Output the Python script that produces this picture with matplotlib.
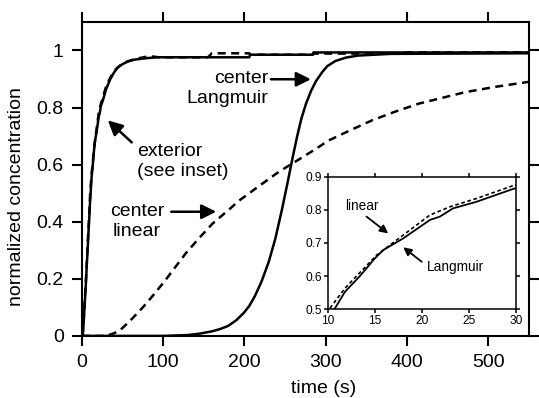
import matplotlib
matplotlib.use("Agg")
import matplotlib.pyplot as plt

plt.rcParams['font.family'] = ['Liberation Sans', 'DejaVu Sans']

# exterior, Langmuir isotherm (solid)
t_ext_lang = [0, 1, 2, 3, 4, 5, 6, 7, 8, 9, 10, 10.74, 11.8, 13.4, 15, 15.9, 18,
              20.85, 21.9, 23.3, 25.8, 29.7, 35, 40, 44, 50, 57, 65, 80, 93,
              206, 207, 284, 285, 550]
c_ext_lang = [0, 0.0, 0.04, 0.09, 0.14, 0.19, 0.25, 0.30, 0.36, 0.41, 0.47, 0.502,
              0.552, 0.60, 0.654, 0.679, 0.714, 0.77, 0.78, 0.805, 0.825, 0.864,
              0.90, 0.925, 0.94, 0.952, 0.962, 0.968, 0.973, 0.976,
              0.976, 0.985, 0.985, 0.993, 0.993]

# exterior, linear isotherm (dashed)
t_ext_lin = [0, 1, 2, 3, 4, 5, 6, 7, 8, 9, 10, 10.2, 11.8, 15.2, 18, 20.85, 23,
             25.8, 29.9, 35, 40, 50, 65, 83, 95, 155, 160, 206, 207, 284, 285,
             395, 400, 550]
c_ext_lin = [0, 0.01, 0.05, 0.10, 0.15, 0.20, 0.26, 0.32, 0.37, 0.43, 0.49, 0.502,
             0.563, 0.664, 0.724, 0.785, 0.81, 0.835, 0.876, 0.905, 0.93, 0.955,
             0.97, 0.98, 0.976, 0.976, 0.99, 0.99, 0.985, 0.985, 0.989,
             0.989, 0.993, 0.993]

# center, Langmuir isotherm (solid)
t_cen_lang = [0, 100, 130, 145, 160, 170, 180, 190, 199, 206, 213, 221, 230, 238,
              246, 253, 259, 265, 270, 276, 282, 288, 296, 302, 312, 325, 340,
              380, 550]
c_cen_lang = [0, 0, 0.003, 0.008, 0.016, 0.024, 0.035, 0.055, 0.08, 0.105, 0.14,
              0.19, 0.26, 0.34, 0.44, 0.535, 0.62, 0.70, 0.76, 0.815, 0.858,
              0.892, 0.925, 0.945, 0.963, 0.975, 0.982, 0.988, 0.99]

# center, linear isotherm (dashed)
t_cen_lin = [0, 30, 40, 47, 60, 75, 90, 104, 128, 145, 161, 180, 194, 218, 240,
             251, 267, 285, 304, 330, 357, 385, 415, 445, 472, 510, 550]
c_cen_lin = [0, 0, 0.01, 0.02, 0.055, 0.10, 0.15, 0.20, 0.29, 0.345, 0.394, 0.44,
             0.475, 0.525, 0.57, 0.59, 0.618, 0.65, 0.685, 0.72, 0.755, 0.785,
             0.814, 0.835, 0.854, 0.873, 0.89]

fig = plt.figure(figsize=(5.39, 3.98), dpi=100)
ax = fig.add_axes([0.152, 0.156, 0.829, 0.789])

lw = 1.8
ax.plot(t_ext_lin, c_ext_lin, color='k', lw=lw, dashes=(3.2, 2.2))
ax.plot(t_cen_lin, c_cen_lin, color='k', lw=lw, dashes=(3.2, 2.2))
ax.plot(t_ext_lang, c_ext_lang, color='k', lw=lw)
ax.plot(t_cen_lang, c_cen_lang, color='k', lw=lw)

ax.set_xlim(0, 550)
ax.set_ylim(0, 1.1)
ax.set_xticks([0, 100, 200, 300, 400, 500])
ax.set_yticks([0, 0.2, 0.4, 0.6, 0.8, 1.0])
ax.set_yticklabels(['0', '0.2', '0.4', '0.6', '0.8', '1'])
ax.tick_params(direction='out', length=7, width=1.5, labelsize=14, pad=6,
               top=True, right=True, labeltop=False, labelright=False)
for s in ax.spines.values():
    s.set_linewidth(1.5)

ax.set_xlabel('time (s)', fontsize=14)
ax.xaxis.set_label_coords(0.54, -0.14)
ax.set_ylabel('normalized concentration', fontsize=14)
ax.yaxis.set_label_coords(-0.128, 0.443)

arr = dict(arrowstyle='-|>', color='k', lw=1.8, mutation_scale=22,
           shrinkA=0, shrinkB=0)
ax.text(229.4, 0.867, 'center\nLangmuir', fontsize=14, ha='right', va='center',
        multialignment='right')
ax.annotate('', xy=(281.8, 0.899), xytext=(232.7, 0.899), arrowprops=arr)
ax.text(67.5, 0.612, 'exterior\n(see inset)', fontsize=14, ha='left', va='center')
ax.annotate('', xy=(31.9, 0.755), xytext=(61.3, 0.678), arrowprops=arr)
ax.text(68, 0.40, 'center\nlinear', fontsize=14, ha='center', va='center',
        multialignment='center')
ax.annotate('', xy=(165.3, 0.435), xytext=(110, 0.435), arrowprops=arr)

# inset: zoom on the exterior curves
ins = fig.add_axes([0.6085, 0.2236, 0.349, 0.3317])
ins.plot(t_ext_lin, c_ext_lin, color='k', lw=1.2, dashes=(2.2, 1.6))
ins.plot(t_ext_lang, c_ext_lang, color='k', lw=1.3)
ins.set_xlim(10, 30)
ins.set_ylim(0.5, 0.9)
ins.set_xticks([10, 15, 20, 25, 30])
ins.set_yticks([0.5, 0.6, 0.7, 0.8, 0.9])
ins.tick_params(direction='out', length=3, width=1.1, labelsize=8.6, pad=1.5,
                top=True, right=True, labeltop=False, labelright=False)
for s in ins.spines.values():
    s.set_linewidth(1.1)

arr2 = dict(arrowstyle='-|>', color='k', lw=1.3, mutation_scale=12,
            shrinkA=0, shrinkB=0)
ins.text(13.56, 0.812, 'linear', fontsize=9.8, ha='center', va='center')
ins.annotate('', xy=(16.4, 0.729), xytext=(14.1, 0.78), arrowprops=arr2)
ins.text(23.5, 0.628, 'Langmuir', fontsize=9.8, ha='center', va='center')
ins.annotate('', xy=(18.0, 0.687), xytext=(19.97, 0.643), arrowprops=arr2)

fig.savefig('out.png', dpi=100)
